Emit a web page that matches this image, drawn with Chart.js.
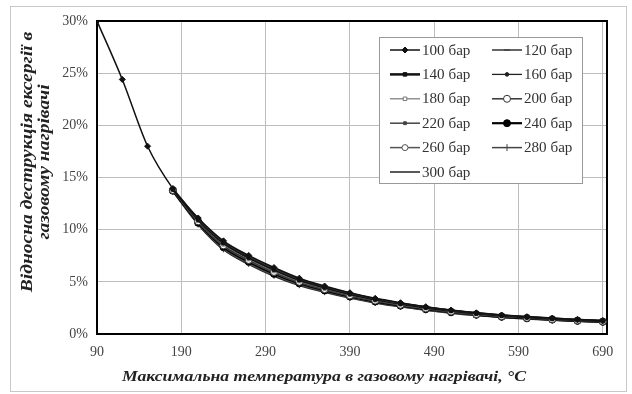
<!DOCTYPE html>
<html>
<head>
<meta charset="utf-8">
<script src="https://cdn.jsdelivr.net/npm/chart.js@4.4.0/dist/chart.umd.min.js"></script>
<style>
  html, body { margin: 0; padding: 0; background: #fff; }
</style>
</head>
<body>
<canvas id="chart" width="632" height="394"></canvas>
<script>
// temperatures, °C
var temps = [90, 120, 150, 180, 210, 240, 270, 300, 330, 360, 390, 420, 450, 480, 510, 540, 570, 600, 630, 660, 690];
var xTicks = [90, 190, 290, 390, 490, 590, 690];
var seriesNames = ['100 бар', '120 бар', '140 бар', '160 бар', '180 бар', '200 бар',
                   '220 бар', '240 бар', '260 бар', '280 бар', '300 бар'];

// relative exergy destruction, %
var p100 = [30.0, 24.4, 18.0, 13.94, 11.12, 8.93, 7.53, 6.37, 5.35, 4.60, 3.96, 3.42, 3.00, 2.62, 2.30, 2.03, 1.82, 1.66, 1.52, 1.39, 1.28];
var p120 = [null, null, null, 13.91, 11.06, 8.84, 7.44, 6.28, 5.28, 4.54, 3.91, 3.38, 2.96, 2.59, 2.27, 2.01, 1.80, 1.64, 1.50, 1.37, 1.27];
var p140 = [null, null, null, 13.88, 10.99, 8.76, 7.36, 6.20, 5.21, 4.48, 3.86, 3.33, 2.92, 2.55, 2.24, 1.98, 1.77, 1.62, 1.48, 1.35, 1.25];
var p160 = [null, null, null, 13.86, 10.93, 8.67, 7.27, 6.12, 5.14, 4.42, 3.80, 3.29, 2.88, 2.52, 2.21, 1.95, 1.75, 1.59, 1.46, 1.34, 1.23];
var p180 = [null, null, null, 13.83, 10.86, 8.59, 7.19, 6.03, 5.07, 4.36, 3.75, 3.24, 2.84, 2.48, 2.18, 1.93, 1.72, 1.57, 1.44, 1.32, 1.22];
var p200 = [null, null, null, 13.80, 10.80, 8.50, 7.10, 5.95, 5.00, 4.30, 3.70, 3.20, 2.80, 2.45, 2.15, 1.90, 1.70, 1.55, 1.42, 1.30, 1.20];
var p220 = [null, null, null, 13.77, 10.74, 8.42, 7.01, 5.87, 4.93, 4.24, 3.65, 3.16, 2.76, 2.42, 2.12, 1.87, 1.68, 1.53, 1.40, 1.28, 1.18];
var p240 = [null, null, null, 13.74, 10.67, 8.33, 6.93, 5.78, 4.86, 4.18, 3.60, 3.11, 2.72, 2.38, 2.09, 1.85, 1.65, 1.51, 1.38, 1.26, 1.17];
var p260 = [null, null, null, 13.72, 10.61, 8.25, 6.84, 5.70, 4.79, 4.12, 3.54, 3.07, 2.68, 2.35, 2.06, 1.82, 1.63, 1.48, 1.36, 1.25, 1.15];
var p280 = [null, null, null, 13.69, 10.54, 8.16, 6.76, 5.62, 4.72, 4.06, 3.49, 3.02, 2.64, 2.31, 2.03, 1.79, 1.60, 1.46, 1.34, 1.23, 1.13];
var p300 = [null, null, null, 13.66, 10.48, 8.08, 6.67, 5.53, 4.65, 4.00, 3.44, 2.98, 2.60, 2.28, 2.00, 1.77, 1.58, 1.44, 1.32, 1.21, 1.12];
var allSeries = [p100, p120, p140, p160, p180, p200, p220, p240, p260, p280, p300];

// line / marker look for each pressure
var styles = [
  { color: '#111', width: 1.5, point: 'rectRot', r: 3, fill: '#111' },
  { color: '#333', width: 1.5, point: 'line', r: 3, fill: '#333' },
  { color: '#111', width: 2.5, point: 'rect', r: 2.5, fill: '#111' },
  { color: '#222', width: 1.3, point: 'circle', r: 1.8, fill: '#222' },
  { color: '#777', width: 1.2, point: 'rect', r: 2.5, fill: '#fff' },
  { color: '#333', width: 1.5, point: 'circle', r: 3.5, fill: '#fff' },
  { color: '#444', width: 1.5, point: 'rect', r: 2, fill: '#444' },
  { color: '#000', width: 2.2, point: 'circle', r: 3.5, fill: '#000' },
  { color: '#555', width: 1.5, point: 'circle', r: 3, fill: '#fff' },
  { color: '#444', width: 1.5, point: 'line', r: 3.5, fill: '#444', rot: 90 },
  { color: '#222', width: 1.5, point: false, r: 0, fill: '#222' }
];

var serif = '"Liberation Serif", "DejaVu Serif", serif';

var datasets = allSeries.map(function (vals, i) {
  var st = styles[i];
  var pts = [];
  for (var k = 0; k < temps.length; k++) {
    if (vals[k] !== null) pts.push({ x: temps[k], y: vals[k] });
  }
  return {
    label: seriesNames[i],
    data: pts,
    borderColor: st.color,
    borderWidth: st.width,
    backgroundColor: st.fill,
    pointStyle: st.point,
    pointRadius: st.r,
    pointRotation: st.rot || 0,
    pointBorderColor: st.color,
    pointBackgroundColor: st.fill,
    pointBorderWidth: 1,
    tension: 0.4,
    cubicInterpolationMode: 'monotone'
  };
});

// text drawn a bit wider than the font's natural width
function wideText(ctx, txt, x, y, sx) {
  ctx.save();
  ctx.translate(x, y);
  ctx.scale(sx, 1);
  ctx.fillText(txt, 0, 0);
  ctx.restore();
}

// plot frame, outer border, axis titles and the boxed legend
var decor = {
  id: 'decor',
  beforeDatasetsDraw: function (chart) {
    var ctx = chart.ctx, a = chart.chartArea;
    ctx.save();
    ctx.strokeStyle = '#000';
    ctx.lineWidth = 2;
    ctx.strokeRect(a.left, a.top, a.right - a.left, a.bottom - a.top);
    ctx.restore();
  },
  afterDraw: function (chart) {
    var ctx = chart.ctx;
    ctx.save();
    ctx.strokeStyle = '#c8c8c8';
    ctx.lineWidth = 1;
    ctx.strokeRect(10.5, 6.5, 616, 385);

    // axis titles
    ctx.fillStyle = '#222';
    ctx.font = 'italic bold 15px ' + serif;
    ctx.textAlign = 'center';
    ctx.textBaseline = 'middle';
    wideText(ctx, 'Максимальна температура в газовому нагрівачі, °C', 324, 377, 1.18);

    ctx.save();
    ctx.translate(0, 162);
    ctx.rotate(-Math.PI / 2);
    ctx.font = 'italic bold 16px ' + serif;
    wideText(ctx, 'Відносна деструкція ексергії в', 0, 28, 1.22);
    wideText(ctx, 'газовому нагрівачі', 0, 45, 1.22);
    ctx.restore();

    // legend
    var lx = 379, ly = 37, lw = 203, lh = 146;
    ctx.fillStyle = '#fff';
    ctx.fillRect(lx, ly, lw, lh);
    ctx.strokeStyle = '#999';
    ctx.lineWidth = 1;
    ctx.strokeRect(lx + 0.5, ly + 0.5, lw, lh);

    ctx.font = '14px ' + serif;
    ctx.textAlign = 'left';
    chart.data.datasets.forEach(function (ds, i) {
      var col = i % 2, row = Math.floor(i / 2);
      var x0 = col === 0 ? 390 : 492;
      var y = 50 + row * 24.4;
      ctx.strokeStyle = ds.borderColor;
      ctx.lineWidth = ds.borderWidth;
      ctx.beginPath();
      ctx.moveTo(x0, y);
      ctx.lineTo(x0 + 30, y);
      ctx.stroke();
      if (ds.pointStyle) {
        ctx.fillStyle = ds.pointBackgroundColor;
        ctx.strokeStyle = ds.pointBorderColor;
        ctx.lineWidth = 1;
        Chart.helpers.drawPoint(ctx, {
          pointStyle: ds.pointStyle,
          radius: ds.pointRadius,
          rotation: ds.pointRotation,
          borderWidth: 1
        }, x0 + 15, y);
      }
      ctx.fillStyle = '#333';
      wideText(ctx, ds.label, x0 + 32, y + 1, 1.08);
    });
    ctx.restore();
  }
};

new Chart(document.getElementById('chart'), {
  type: 'line',
  data: { datasets: datasets },
  options: {
    responsive: false,
    animation: false,
    layout: { padding: { top: 21, right: 25, left: 0, bottom: 0 } },
    plugins: { legend: { display: false }, tooltip: { enabled: false } },
    scales: {
      x: {
        type: 'linear',
        min: 90,
        max: 695,
        afterBuildTicks: function (s) {
          s.ticks = xTicks.map(function (v) { return { value: v }; });
        },
        afterFit: function (s) { s.height = 60; },
        grid: { color: '#bdbdbd', lineWidth: 1, drawTicks: false },
        border: { display: false },
        ticks: {
          padding: 10,
          color: '#444',
          font: { family: serif, size: 14 },
          maxRotation: 0,
          callback: function (v) { return v; }
        }
      },
      y: {
        min: 0,
        max: 30,
        afterFit: function (s) { s.width = 97; },
        grid: { color: '#bdbdbd', lineWidth: 1, drawTicks: false },
        border: { display: false },
        ticks: {
          stepSize: 5,
          padding: 9,
          color: '#444',
          font: { family: serif, size: 14 },
          callback: function (v) { return v + '%'; }
        }
      }
    }
  },
  plugins: [decor]
});
</script>
</body>
</html>
